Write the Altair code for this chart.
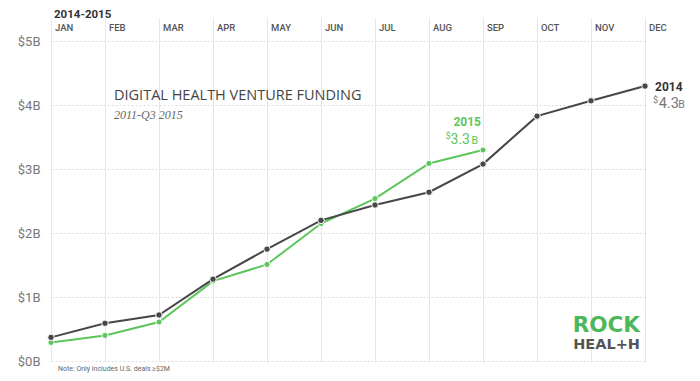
import altair as alt
import pandas as pd

months = ["JAN", "FEB", "MAR", "APR", "MAY", "JUN", "JUL", "AUG", "SEP", "OCT", "NOV", "DEC"]
funding_2014 = [0.37, 0.59, 0.72, 1.28, 1.75, 2.20, 2.44, 2.64, 3.08, 3.83, 4.07, 4.30]
funding_2015 = [0.29, 0.40, 0.61, 1.25, 1.51, 2.15, 2.54, 3.09, 3.30]
y_ticks = [0, 1, 2, 3, 4, 5]

DARK = "#474747"
GREEN = "#5cc55c"
FONT = "Roboto"

df14 = pd.DataFrame({"m": list(range(len(funding_2014))), "v": funding_2014})
df15 = pd.DataFrame({"m": list(range(len(funding_2015))), "v": funding_2015})
dfm = pd.DataFrame({"m": list(range(len(months))), "label": months})

xs = alt.Scale(domain=[0, 11], nice=False, zero=False)
ys = alt.Scale(domain=[0, 5.365], nice=False)

x_enc = alt.X("m:Q", scale=xs, axis=alt.Axis(values=list(range(12)), labels=False, ticks=False,
                                              domain=False, grid=True, gridColor="#e6e6e6",
                                              title=None))
y_enc = alt.Y("v:Q", scale=ys, axis=alt.Axis(values=y_ticks, labelExpr="'$' + datum.value + 'B'",
                                              ticks=False, domain=False, grid=True,
                                              gridColor="#dcdcdc", gridDash=[2, 2],
                                              labelFont=FONT, labelFontSize=13, labelColor="#777",
                                              labelPadding=11, title=None))

base_grid = alt.Chart(df14).mark_point(opacity=0).encode(x=x_enc, y=y_enc)

line15 = alt.Chart(df15).mark_line(color=GREEN, strokeWidth=2).encode(x=alt.X("m:Q", scale=xs), y=alt.Y("v:Q", scale=ys))
pts15 = alt.Chart(df15).mark_circle(color=GREEN, size=38, opacity=1, stroke="white", strokeWidth=1).encode(
    x=alt.X("m:Q", scale=xs), y=alt.Y("v:Q", scale=ys))
line14 = alt.Chart(df14).mark_line(color=DARK, strokeWidth=2).encode(x=alt.X("m:Q", scale=xs), y=alt.Y("v:Q", scale=ys))
pts14 = alt.Chart(df14).mark_circle(color=DARK, size=42, opacity=1, stroke="white", strokeWidth=1).encode(
    x=alt.X("m:Q", scale=xs), y=alt.Y("v:Q", scale=ys))

month_labels = alt.Chart(dfm).mark_text(align="left", baseline="middle", dx=4, font=FONT, fontSize=9.5,
                                        fontWeight=500, color="#555").encode(
    x=alt.X("m:Q", scale=xs), y=alt.value(10), text="label:N")

one = alt.Data(values=[{}])


def txt(s, x, y, size, color, weight="normal", align="left", baseline="middle", font=FONT, style="normal"):
    return alt.Chart(one).mark_text(align=align, baseline=baseline, font=font, fontSize=size,
                                    fontWeight=weight, color=color, fontStyle=style).encode(
        x=alt.value(x), y=alt.value(y), text=alt.value(s))


annotations = [
    txt("2014-2015", 3, 0, 11.5, "#333", weight="bold", baseline="alphabetic"),
    txt("DIGITAL HEALTH VENTURE FUNDING", 63, 78, 14.5, "#444", weight=500, font="Open Sans"),
    txt("2011-Q3 2015", 63, 97, 12, "#666", font="Liberation Serif", style="italic"),
    txt("2015", 430, 103.7, 12, GREEN, weight="bold", align="right"),
    txt("$", 399.5, 121, 9, GREEN, align="right", baseline="alphabetic"),
    txt("3.3", 419, 126, 14, GREEN, align="right", baseline="alphabetic"),
    txt("B", 420.5, 126, 10.5, GREEN, baseline="alphabetic"),
    txt("2014", 604, 68.7, 12, "#333", weight="bold"),
    txt("$", 607, 85, 9, "#777", align="right", baseline="alphabetic"),
    txt("4.3", 607.7, 89.7, 14.5, "#777", baseline="alphabetic"),
    txt("B", 627.3, 89.7, 10.5, "#777", baseline="alphabetic"),
    txt("Note: Only includes U.S. deals \u2265$2M", 7, 353, 7, "#666", baseline="alphabetic"),
    txt("ROCK", 589, 314, 21.5, "#4db85a", weight="bold", align="right", baseline="alphabetic", font="DejaVu Sans"),
    txt("HEAL+H", 589, 331, 14.5, "#555", weight="bold", align="right", baseline="alphabetic", font="DejaVu Sans"),
]

chart = alt.layer(base_grid, line15, pts15, line14, pts14, month_labels, *annotations).properties(
    width=594, height=343,
    padding={"left": 43, "top": 10, "right": 47, "bottom": 12},
    autosize=alt.AutoSizeParams(type="none"),
).configure_view(stroke=None)

chart.save("out.html", embed_options={"renderer": "svg", "actions": False})
